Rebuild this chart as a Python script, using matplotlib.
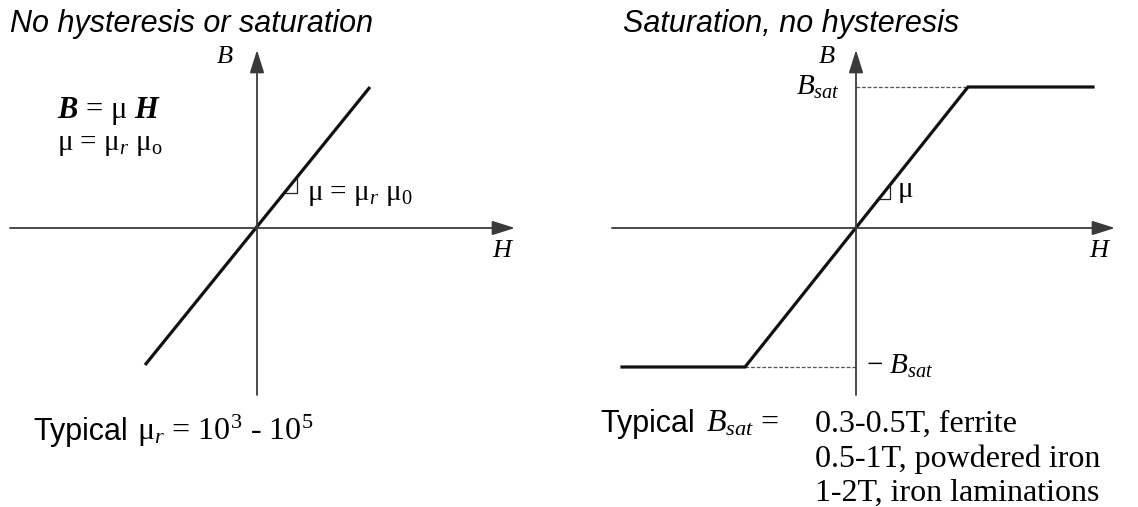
import matplotlib
matplotlib.use('Agg')
import matplotlib.pyplot as plt

plt.rcParams['mathtext.fontset'] = 'custom'
plt.rcParams['mathtext.rm'] = 'Liberation Serif'
plt.rcParams['mathtext.it'] = 'Liberation Serif:italic'
plt.rcParams['mathtext.bf'] = 'Liberation Serif:bold'
plt.rcParams['mathtext.bfit'] = 'Liberation Serif:bold:italic'

# B-H curves (units: H and B, origin at axis crossing)
H_linear = [-1.12, 1.13]
B_linear = [-1.37, 1.41]

H_saturated = [-2.34, -1.11, 1.12, 2.37]
B_saturated = [-1.39, -1.39, 1.41, 1.41]
B_sat = 1.41
H_knee = 1.12

# slope markers (right-angle corner on the curve)
slope_left_H = [0.28, 0.40, 0.40]
slope_left_B = [0.35, 0.35, 0.50]
slope_right_H = [0.23, 0.34, 0.34]
slope_right_B = [0.29, 0.29, 0.43]

bsat_values = ['0.3-0.5T, ferrite', '0.5-1T, powdered iron', '1-2T, iron laminations']

AXIS_COLOR = '#3a3a3a'
SERIF = 'Liberation Serif'
SANS = 'Liberation Sans'

fig = plt.figure(figsize=(11.38, 5.07), dpi=100)
fig.patch.set_facecolor('white')

ax_l = fig.add_axes([0, 0, 0.5, 1])
ax_r = fig.add_axes([0.5, 0, 0.5, 1])
ax_l.set_xlim(-2.57, 3.12)
ax_r.set_xlim(-2.87, 2.82)
for ax in (ax_l, ax_r):
    ax.set_ylim(-2.79, 2.28)
    ax.axis('off')


def draw_axes(ax, hmin, hmax, bmin, bmax):
    arrow = dict(arrowstyle='-|>,head_length=0.7,head_width=0.22', color=AXIS_COLOR,
                 lw=1.3, mutation_scale=20, shrinkA=0, shrinkB=0)
    ax.annotate('', xy=(hmax, 0), xytext=(hmin, 0), arrowprops=arrow)
    ax.annotate('', xy=(0, bmax), xytext=(0, bmin), arrowprops=arrow)


# ---- left panel: no hysteresis or saturation ----
draw_axes(ax_l, -2.47, 2.58, -1.67, 1.78)
ax_l.plot(H_linear, B_linear, color='#111111', lw=2.3, solid_capstyle='butt')
ax_l.plot(slope_left_H, slope_left_B, color='#222222', lw=0.9)

ax_l.text(-2.47, 1.96, 'No hysteresis or saturation', family=SANS, style='italic',
          fontsize=22, va='baseline', ha='left')
ax_l.text(-0.40, 1.65, 'B', family=SERIF, style='italic', fontsize=19, va='baseline')
ax_l.text(2.35, -0.29, 'H', family=SERIF, style='italic', fontsize=19, va='baseline')
ax_l.text(-2.0, 1.10, r'$\mathbfit{B}$ = μ $\mathbfit{H}$', family=SERIF, fontsize=22,
          va='baseline')
ax_l.text(-2.0, 0.78, r'μ = μ$_r$ μ$_\mathrm{o}$', family=SERIF, fontsize=21, va='baseline')
ax_l.text(0.50, 0.28, r'μ = μ$_r$ μ$_\mathit{0}$', family=SERIF, fontsize=21, va='baseline')
ax_l.text(-2.24, -2.12, 'Typical', family=SANS, fontsize=22, va='baseline')
ax_l.text(-1.20, -2.12, r'μ$_r$ = 10$^3$ - 10$^5$', family=SERIF, fontsize=23, va='baseline')

# ---- right panel: saturation, no hysteresis ----
draw_axes(ax_r, -2.44, 2.59, -1.67, 1.78)
ax_r.plot([0, H_knee], [B_sat, B_sat], color='#555555', lw=0.9, ls=(0, (3, 1.5)))
ax_r.plot([-H_knee + 0.01, 0], [-B_sat + 0.02, -B_sat + 0.02], color='#555555', lw=0.9,
          ls=(0, (3, 1.5)))
ax_r.plot(H_saturated, B_saturated, color='#111111', lw=2.3, solid_joinstyle='miter')
ax_r.plot(slope_right_H, slope_right_B, color='#222222', lw=0.9)

ax_r.text(-2.33, 1.96, 'Saturation, no hysteresis', family=SANS, style='italic',
          fontsize=22, va='baseline', ha='left')
ax_r.text(-0.37, 1.65, 'B', family=SERIF, style='italic', fontsize=19, va='baseline')
ax_r.text(2.33, -0.29, 'H', family=SERIF, style='italic', fontsize=19, va='baseline')
ax_r.text(-0.16, 1.33, r'$B_{sat}$', family=SERIF, fontsize=21, va='baseline', ha='right')
ax_r.text(0.10, -1.46, r'− $B_{sat}$', family=SERIF, fontsize=21, va='baseline')
ax_r.text(0.42, 0.31, 'μ', family=SERIF, fontsize=21, va='baseline')

ax_r.text(-2.56, -2.04, 'Typical', family=SANS, fontsize=22, va='baseline')
ax_r.text(-1.50, -2.04, r'$B_{sat}$ =', family=SERIF, fontsize=23, va='baseline')
for i, label in enumerate(bsat_values):
    ax_r.text(-0.41, -2.04 - 0.345 * i, label, family=SERIF, fontsize=23, va='baseline')

fig.savefig('out.png', dpi=100, facecolor='white')
